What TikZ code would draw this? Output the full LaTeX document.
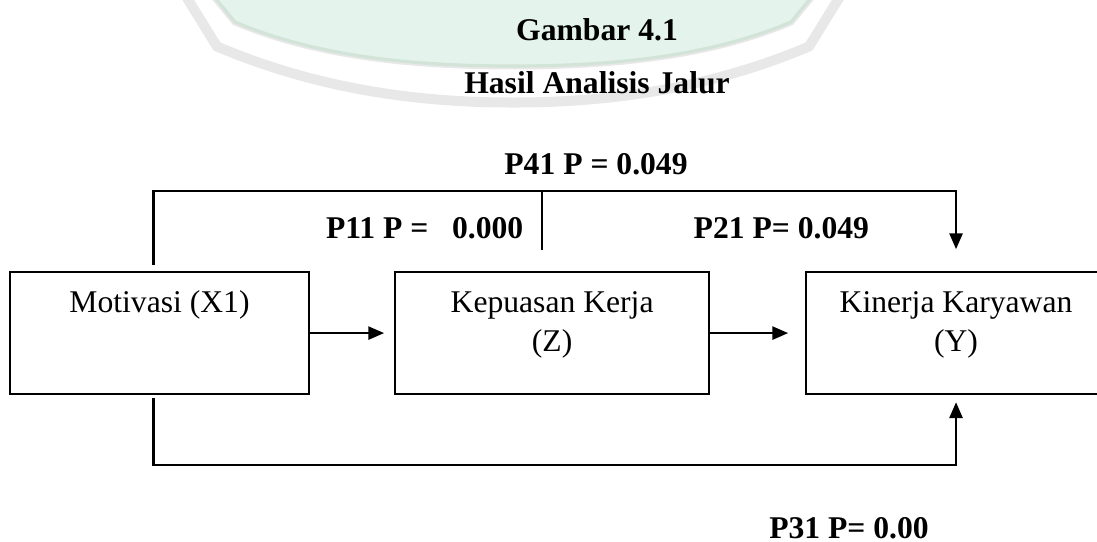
\documentclass[tikz,border=0pt]{standalone}
\usepackage{fontspec}
\setmainfont{Liberation Serif}
\usetikzlibrary{calc}
\usetikzlibrary{positioning}
\usetikzlibrary{arrows.meta}
\definecolor{wmgreen}{HTML}{E4F3EC}
\definecolor{wmedge}{HTML}{D2E3D8}
\definecolor{wmgray}{HTML}{E8E8E8}

\begin{document}
\begin{tikzpicture}[x=0.3794pt,y=-0.3794pt,->,>={Triangle[length=6pt,width=5pt]},
  line width=0.8pt,
  var node/.style={rectangle,draw,font=\fontsize{12}{14.8}\selectfont,
  inner sep=0pt,minimum height=46.3pt,text height=15.2pt,text depth=31.1pt,anchor=north},
  coef/.style={font=\fontsize{12}{14.8}\selectfont\bfseries,inner sep=0pt,anchor=base}]
  \useasboundingbox (0,0) rectangle (1097,541);
  \clip (0,0) rectangle (1097,541);
  % watermark
  \begin{scope}[-]
    \draw[wmgray,line width=3.8pt] (182,-10) -- (217,46.5) .. controls (320,90) and (420,102.5) .. (513,102.5)
      .. controls (606,102.5) and (706,90) .. (809,46.5) -- (844,-10);
    \draw[wmgray,line width=2.6pt] (207,-12) -- (235,22) .. controls (320,58) and (420,66) .. (513,66)
      .. controls (606,66) and (706,58) .. (791,22) -- (819,-12);
    \fill[wmgreen] (207,-12) -- (235,22) .. controls (320,58) and (420,66) .. (513,66)
      .. controls (606,66) and (706,58) .. (791,22) -- (819,-12) -- cycle;
    \draw[wmedge,line width=1.2pt] (207,-12) -- (235,22) .. controls (320,58) and (420,66) .. (513,66)
      .. controls (606,66) and (706,58) .. (791,22) -- (819,-12);
  \end{scope}

  \node[coef] (fig) at (597,40) {Gambar 4.1};
  \node[coef] (ttl) at (597,93) {Hasil Analisis Jalur};

  \node[var node,minimum width=113.4pt] (X) at (159.5,271) {Motivasi (X1)};
  \node[var node,minimum width=119.1pt,right=31.9pt of X] (Z)
    {\begin{tabular}[t]{@{}c@{}}Kepuasan Kerja\\(Z)\end{tabular}};
  \node[var node,minimum width=113.8pt,right=36pt of Z] (Y)
    {\begin{tabular}[t]{@{}c@{}}Kinerja Karyawan\\(Y)\end{tabular}};

  \coordinate (Xtop) at ($(X.north)+(-6,0)$);
  \coordinate (Xbot) at ($(X.south)+(-6,0)$);
  \coordinate (div) at (542,191);

  % jalur
  \draw[shorten >=3.8pt] (X) -- (Z);
  \draw[shorten >=6.4pt] (Z) -- (Y);
  \draw[shorten <=2.3pt,shorten >=8.3pt] (Xtop) -- ++(0,-80) -| (Y.north);
  \draw[-] (div) -- ++(0,59);
  \draw[shorten <=1.1pt,shorten >=2.7pt] (Xbot) -- ++(0,70) -| (Y.south);

  \node[coef] (p41) at (596,174) {P41 P = 0.049};
  \node[coef,anchor=base west] (p11) at (325,238) {P11 P =\ \ \ 0.000};
  \node[coef,anchor=base east] (p21) at (870,238) {P21 P= 0.049};
  \node[coef] (p31) at (849,538) {P31 P= 0.00};
\end{tikzpicture}
\end{document}
